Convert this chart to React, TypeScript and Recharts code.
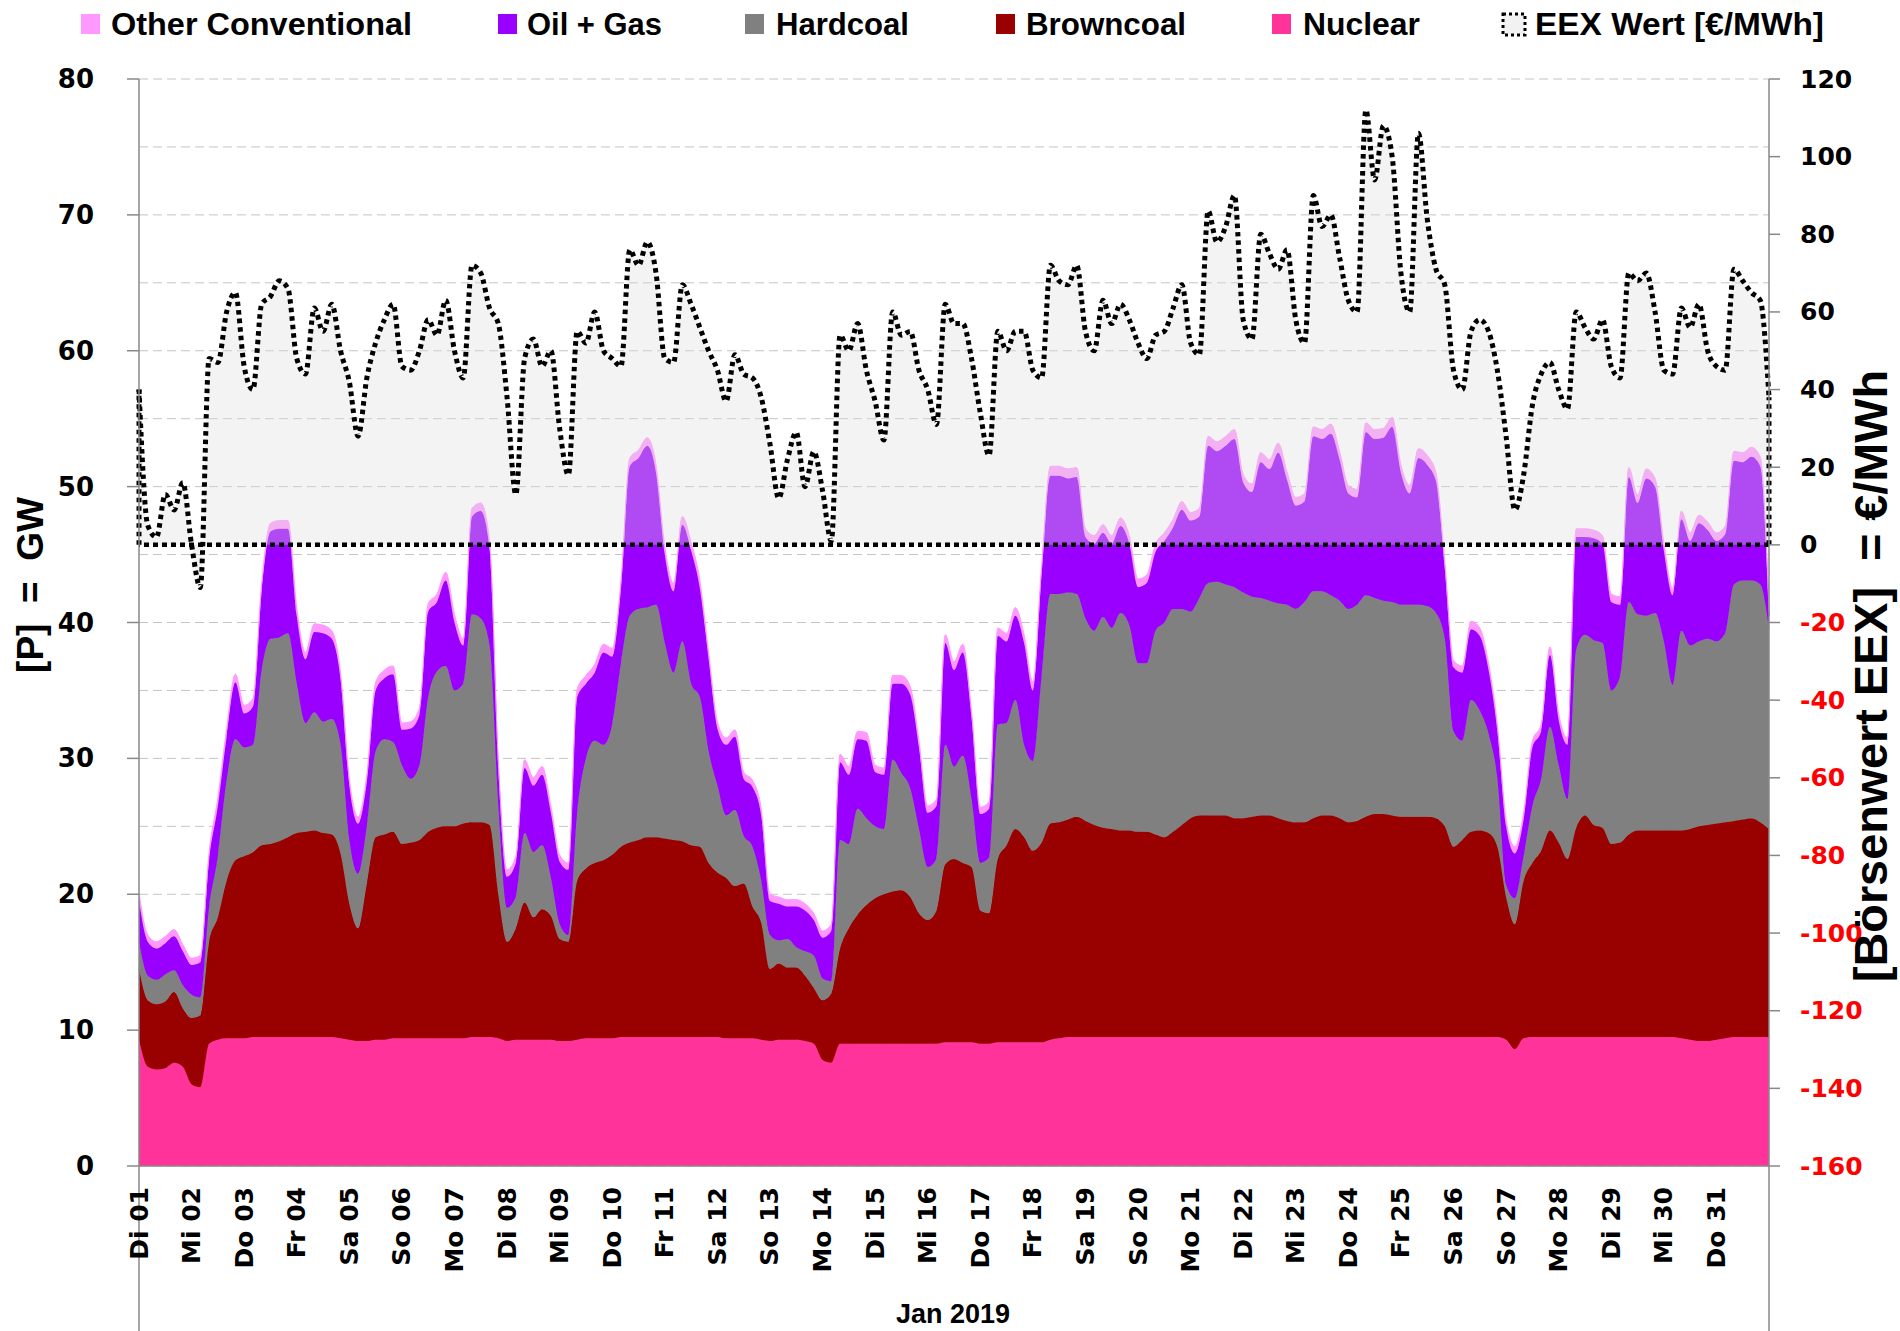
import { ComposedChart, Area, XAxis, YAxis, CartesianGrid, ReferenceLine } from 'recharts'

// Januar 2019, 4-Stunden-Werte (6 pro Tag), letzter Wert = 01.02. 00:00
const STEPS_PER_DAY = 6

const dayLabels = [
  'Di 01', 'Mi 02', 'Do 03', 'Fr 04', 'Sa 05', 'So 06', 'Mo 07', 'Di 08', 'Mi 09', 'Do 10',
  'Fr 11', 'Sa 12', 'So 13', 'Mo 14', 'Di 15', 'Mi 16', 'Do 17', 'Fr 18', 'Sa 19', 'So 20',
  'Mo 21', 'Di 22', 'Mi 23', 'Do 24', 'Fr 25', 'Sa 26', 'So 27', 'Mo 28', 'Di 29', 'Mi 30', 'Do 31',
]

// GW
const nuclear = [
  9.3, 7.3, 7.1, 7.2, 7.6, 7.3,
  6.0, 5.8, 9.0, 9.3, 9.4, 9.4,
  9.4, 9.5, 9.5, 9.5, 9.5, 9.5,
  9.5, 9.5, 9.5, 9.5, 9.5, 9.4,
  9.3, 9.2, 9.2, 9.3, 9.3, 9.4,
  9.4, 9.4, 9.4, 9.4, 9.4, 9.4,
  9.4, 9.4, 9.5, 9.5, 9.5, 9.4,
  9.2, 9.3, 9.3, 9.3, 9.3, 9.3,
  9.2, 9.2, 9.3, 9.4, 9.4, 9.4,
  9.4, 9.5, 9.5, 9.5, 9.5, 9.5,
  9.5, 9.5, 9.5, 9.5, 9.5, 9.5,
  9.5, 9.4, 9.4, 9.4, 9.4, 9.3,
  9.2, 9.3, 9.3, 9.3, 9.2, 9.0,
  7.8, 7.6, 9.0, 9.0, 9.0, 9.0,
  9.0, 9.0, 9.0, 9.0, 9.0, 9.0,
  9.0, 9.0, 9.1, 9.1, 9.1, 9.1,
  9.0, 9.0, 9.1, 9.1, 9.1, 9.1,
  9.1, 9.1, 9.3, 9.4, 9.5, 9.5,
  9.5, 9.5, 9.5, 9.5, 9.5, 9.5,
  9.5, 9.5, 9.5, 9.5, 9.5, 9.5,
  9.5, 9.5, 9.5, 9.5, 9.5, 9.5,
  9.5, 9.5, 9.5, 9.5, 9.5, 9.5,
  9.5, 9.5, 9.5, 9.5, 9.5, 9.5,
  9.5, 9.5, 9.5, 9.5, 9.5, 9.5,
  9.5, 9.5, 9.5, 9.5, 9.5, 9.5,
  9.5, 9.5, 9.5, 9.5, 9.5, 9.5,
  9.3, 8.6, 9.4, 9.5, 9.5, 9.5,
  9.5, 9.5, 9.5, 9.5, 9.5, 9.5,
  9.5, 9.5, 9.5, 9.5, 9.5, 9.5,
  9.5, 9.5, 9.4, 9.3, 9.2, 9.2,
  9.3, 9.4, 9.5, 9.5, 9.5, 9.5, 9.5,
]

const browncoal = [
  5.2, 4.9, 4.8, 4.9, 5.2, 4.3,
  4.9, 5.3, 7.5, 9.0, 11.6, 13.1,
  13.4, 13.6, 14.1, 14.2, 14.4, 14.7,
  15.0, 15.1, 15.2, 15.0, 14.9, 13.6,
  10.0, 8.3, 11.6, 14.9, 15.1, 15.2,
  14.3, 14.4, 14.6, 15.2, 15.5, 15.6,
  15.6, 15.8, 15.8, 15.8, 15.6, 10.6,
  7.3, 8.2, 10.1, 9.0, 9.6, 9.1,
  7.5, 7.3, 11.7, 12.5, 12.9, 13.1,
  13.5, 14.0, 14.3, 14.5, 14.7, 14.7,
  14.6, 14.5, 14.4, 14.1, 14.0, 12.8,
  12.1, 11.8, 11.2, 11.4, 9.7, 8.6,
  5.3, 5.6, 5.3, 5.3, 4.8, 4.1,
  4.4, 5.1, 7.0, 8.5, 9.5, 10.2,
  10.7, 11.0, 11.2, 11.3, 10.8, 9.6,
  9.1, 9.8, 13.1, 13.5, 13.2, 12.9,
  9.8, 9.6, 13.5, 14.5, 15.7, 15.1,
  14.1, 14.7, 15.9, 15.9, 16.0, 16.2,
  15.9, 15.6, 15.4, 15.3, 15.2, 15.2,
  15.1, 15.1, 14.9, 14.7, 15.1, 15.6,
  16.1, 16.3, 16.3, 16.3, 16.3, 16.1,
  16.1, 16.2, 16.3, 16.3, 16.1, 15.9,
  15.8, 15.8, 16.1, 16.3, 16.3, 16.1,
  15.8, 15.9, 16.2, 16.4, 16.4, 16.3,
  16.2, 16.2, 16.2, 16.2, 16.1, 15.5,
  14.0, 14.5, 15.1, 15.2, 15.0, 14.0,
  10.5, 9.2, 11.6, 12.8, 13.7, 15.2,
  14.3, 13.1, 15.4, 16.3, 15.6, 15.4,
  14.2, 14.3, 14.9, 15.2, 15.2, 15.2,
  15.2, 15.2, 15.3, 15.5, 15.8, 15.9,
  15.9, 15.9, 15.9, 16.0, 16.1, 15.8, 15.3,
]

const hardcoal = [
  2.0, 1.8, 1.8, 2.0, 1.6, 1.7,
  1.7, 1.3, 2.5, 4.5, 7.4, 8.9,
  8.0, 7.9, 12.9, 15.1, 15.0, 15.0,
  11.0, 8.0, 8.7, 8.2, 8.5, 8.0,
  4.7, 4.0, 4.2, 6.3, 7.0, 6.6,
  5.8, 4.7, 5.5, 9.9, 11.5, 11.8,
  10.0, 10.3, 15.3, 15.0, 13.2, 6.5,
  2.5, 2.3, 5.1, 4.8, 4.7, 2.8,
  1.1, 0.5, 5.0, 8.1, 9.0, 8.5,
  9.6, 13.5, 16.7, 17.0, 16.9, 17.1,
  14.4, 12.3, 14.7, 11.9, 11.0, 8.2,
  6.4, 4.6, 5.6, 3.5, 4.4, 3.1,
  2.5, 1.7, 2.1, 1.5, 1.8, 2.4,
  1.6, 0.9, 8.0, 6.2, 7.8, 6.4,
  5.3, 4.8, 9.7, 8.6, 8.0, 6.2,
  3.9, 3.8, 8.8, 6.8, 7.9, 5.0,
  3.5, 4.1, 9.9, 9.0, 9.5, 6.8,
  6.6, 12.2, 16.9, 16.8, 16.7, 16.4,
  14.9, 14.3, 15.5, 14.8, 16.0, 15.1,
  12.4, 12.4, 15.0, 15.8, 16.4, 15.9,
  15.2, 16.0, 17.1, 17.2, 17.0, 17.0,
  16.6, 16.2, 16.0, 15.8, 15.8, 15.9,
  15.7, 16.2, 16.7, 16.5, 16.2, 16.0,
  15.7, 15.9, 16.3, 15.9, 15.7, 15.7,
  15.6, 15.6, 15.6, 15.5, 15.1, 13.8,
  8.5, 7.3, 9.7, 8.8, 7.3, 5.0,
  0.9, 1.9, 1.8, 4.2, 5.3, 7.6,
  5.7, 4.4, 13.1, 13.3, 13.6, 13.6,
  11.3, 12.2, 17.1, 15.9, 15.8, 16.0,
  13.9, 10.7, 14.7, 13.5, 13.6, 13.7,
  13.4, 13.9, 17.4, 17.6, 17.5, 17.5, 14.7,
]

const oilGas = [
  3.0, 2.5, 2.3, 2.3, 2.5, 2.5,
  2.2, 2.6, 3.5, 3.7, 3.2, 4.2,
  2.5, 2.8, 5.8, 7.9, 8.0, 7.7,
  5.0, 4.7, 5.9, 6.5, 5.9, 4.8,
  4.0, 3.7, 3.3, 4.5, 4.5, 5.0,
  2.6, 3.7, 3.7, 6.3, 5.1, 6.3,
  5.0, 2.8, 7.2, 7.9, 7.1, 2.8,
  2.3, 2.5, 4.8, 4.9, 5.2, 4.8,
  4.6, 4.8, 8.5, 5.5, 5.0, 6.8,
  5.0, 5.5, 11.0, 11.1, 11.9, 9.7,
  6.5, 6.0, 8.6, 9.8, 8.0, 6.8,
  4.2, 5.2, 5.4, 4.2, 4.4, 4.8,
  2.5, 2.7, 2.4, 3.0, 3.0, 2.6,
  3.0, 3.7, 5.7, 5.1, 5.1, 5.7,
  4.0, 4.0, 5.6, 6.6, 6.9, 6.0,
  4.0, 3.9, 7.5, 7.1, 7.6, 6.0,
  3.6, 3.6, 6.5, 6.0, 6.2, 7.5,
  5.2, 7.6, 8.7, 8.7, 8.4, 8.6,
  6.0, 6.4, 6.2, 6.2, 6.4, 6.0,
  5.6, 5.9, 5.8, 6.0, 6.0, 7.3,
  6.7, 6.0, 10.1, 9.6, 10.2, 10.9,
  8.1, 7.7, 10.0, 9.7, 11.1, 9.2,
  7.6, 7.4, 11.4, 11.2, 11.9, 10.4,
  8.5, 7.9, 12.0, 11.7, 12.0, 12.9,
  9.7, 8.2, 10.8, 10.4, 9.7, 5.2,
  4.7, 5.0, 5.2, 5.5, 4.7, 3.5,
  4.3, 3.3, 2.7, 4.3, 3.5, 5.3,
  3.3, 4.0, 8.3, 7.2, 7.5, 7.3,
  6.5, 5.3, 9.2, 8.2, 10.1, 9.3,
  6.7, 6.6, 8.2, 7.7, 8.7, 8.0,
  7.4, 7.3, 9.1, 8.7, 9.1, 8.7, 1.0,
]

const otherConventional = [
  0.6, 0.5, 0.5, 0.5, 0.5, 0.5,
  0.5, 0.5, 0.6, 0.6, 0.6, 0.6,
  0.6, 0.6, 0.6, 0.6, 0.6, 0.6,
  0.6, 0.5, 0.6, 0.6, 0.6, 0.5,
  0.5, 0.5, 0.5, 0.6, 0.6, 0.6,
  0.5, 0.5, 0.5, 0.6, 0.6, 0.6,
  0.6, 0.5, 0.6, 0.6, 0.6, 0.5,
  0.5, 0.5, 0.6, 0.6, 0.6, 0.5,
  0.5, 0.5, 0.6, 0.6, 0.6, 0.6,
  0.6, 0.6, 0.6, 0.6, 0.6, 0.6,
  0.6, 0.6, 0.6, 0.6, 0.6, 0.5,
  0.5, 0.5, 0.5, 0.5, 0.5, 0.5,
  0.5, 0.5, 0.5, 0.5, 0.5, 0.5,
  0.5, 0.5, 0.6, 0.6, 0.6, 0.6,
  0.5, 0.5, 0.6, 0.6, 0.6, 0.5,
  0.5, 0.5, 0.6, 0.6, 0.6, 0.5,
  0.5, 0.5, 0.6, 0.6, 0.6, 0.6,
  0.6, 0.6, 0.7, 0.7, 0.7, 0.7,
  0.6, 0.6, 0.6, 0.6, 0.6, 0.6,
  0.6, 0.6, 0.6, 0.6, 0.6, 0.6,
  0.6, 0.6, 0.7, 0.7, 0.7, 0.7,
  0.6, 0.6, 0.7, 0.7, 0.7, 0.6,
  0.6, 0.6, 0.7, 0.7, 0.7, 0.6,
  0.6, 0.6, 0.7, 0.7, 0.7, 0.7,
  0.6, 0.6, 0.7, 0.7, 0.6, 0.5,
  0.5, 0.5, 0.6, 0.6, 0.5, 0.5,
  0.5, 0.5, 0.5, 0.5, 0.5, 0.6,
  0.5, 0.5, 0.6, 0.6, 0.6, 0.6,
  0.6, 0.6, 0.7, 0.6, 0.7, 0.6,
  0.6, 0.5, 0.6, 0.6, 0.6, 0.6,
  0.6, 0.6, 0.7, 0.7, 0.7, 0.7, 0.4,
]

// €/MWh
const eexPrice = [
  40, 5, 2, 13, 9, 16,
  0, -11, 48, 47, 60, 65,
  46, 40, 62, 64, 68, 66,
  48, 44, 61, 55, 62, 50,
  42, 28, 43, 52, 58, 62,
  46, 45, 50, 58, 54, 63,
  50, 43, 72, 70, 61, 57,
  38, 13, 48, 53, 46, 50,
  30, 18, 55, 52, 60, 50,
  48, 46, 76, 72, 78, 70,
  48, 47, 67, 62, 56, 50,
  45, 37, 49, 44, 43, 38,
  26, 12, 22, 29, 15, 24,
  14, 1, 54, 50, 57, 45,
  37, 27, 60, 54, 55, 45,
  40, 31, 62, 57, 57, 48,
  34, 23, 55, 50, 55, 55,
  45, 43, 72, 68, 67, 72,
  55, 50, 63, 57, 62, 58,
  52, 48, 54, 55, 61, 67,
  52, 49, 86, 78, 82, 90,
  58, 53, 80, 75, 71, 76,
  58, 52, 90, 82, 85, 74,
  63, 60, 112, 94, 108, 100,
  70, 60, 106, 84, 71, 67,
  45, 40, 55, 58, 55, 45,
  28, 9, 18, 36, 44, 47,
  40, 35, 60, 56, 53, 58,
  46, 43, 70, 68, 70, 60,
  45, 44, 61, 56, 62, 50,
  46, 45, 71, 68, 65, 63, 38,
]

const gwTicks = [0, 5, 10, 15, 20, 25, 30, 35, 40, 45, 50, 55, 60, 65, 70, 75, 80]
const priceTicks = [-160, -140, -120, -100, -80, -60, -40, -20, 0, 20, 40, 60, 80, 100, 120]

const data = eexPrice.map((price, i) => ({
  t: i / STEPS_PER_DAY,
  nuclear: nuclear[i],
  browncoal: browncoal[i],
  hardcoal: hardcoal[i],
  oilGas: oilGas[i],
  other: otherConventional[i],
  price,
}))

const lastDay = dayLabels.length
const AXIS_GRAY = '#888888'
const TICK_FONT = "'DejaVu Sans', Verdana, sans-serif"
const LABEL_FONT = "'Liberation Sans', Arial, sans-serif"

const legendItems = [
  { label: 'Other Conventional', color: '#ff99ff', x: 81, tx: 111, w: 301 },
  { label: 'Oil + Gas', color: '#9900ff', x: 498, tx: 527, w: 135 },
  { label: 'Hardcoal', color: '#808080', x: 745, tx: 776, w: 133 },
  { label: 'Browncoal', color: '#990000', x: 996, tx: 1026, w: 160 },
  { label: 'Nuclear', color: '#ff3399', x: 1272, tx: 1303, w: 117 },
]

function DayTick({ x, y, payload }: any) {
  return (
    <text
      x={x}
      y={y}
      transform={`rotate(-90, ${x}, ${y})`}
      textAnchor="end"
      dominantBaseline="central"
      fontFamily={TICK_FONT}
      fontWeight="bold"
      fontSize={25}
      fill="#000"
    >
      {dayLabels[payload.value]}
    </text>
  )
}

function GwTick({ x, y, payload }: any) {
  if (payload.value % 10 !== 0) return <g />
  const axisX = x + 45
  return (
    <g>
      <line x1={axisX - 12} x2={axisX} y1={y} y2={y} stroke={AXIS_GRAY} strokeWidth={1.5} />
      <text x={x} y={y} textAnchor="end" dominantBaseline="central" fontFamily={TICK_FONT} fontWeight="bold" fontSize={26} fill="#000">
        {payload.value}
      </text>
    </g>
  )
}

function PriceTick({ x, y, payload }: any) {
  return (
    <text x={x} y={y} textAnchor="start" dominantBaseline="central" fontFamily={TICK_FONT} fontWeight="bold" fontSize={25} fill={payload.value < 0 ? '#ff0000' : '#000'}>
      {payload.value}
    </text>
  )
}

export default function App() {
  return (
    <div style={{ position: 'absolute', left: 0, top: 0, width: 1900, height: 1331, background: '#fff' }}>
      <ComposedChart width={1900} height={1331} data={data} margin={{ top: 79, right: 31, bottom: 15, left: 39 }}>
        <CartesianGrid yAxisId="left" vertical={false} stroke="#c4c4c4" strokeDasharray="9 5" />
        <XAxis
          dataKey="t"
          type="number"
          domain={[0, lastDay]}
          ticks={dayLabels.map((_, i) => i)}
          interval={0}
          height={150}
          tickLine={false}
          tickSize={0}
          tickMargin={21}
          tick={<DayTick />}
          axisLine={{ stroke: AXIS_GRAY, strokeWidth: 1.5 }}
        />
        <YAxis
          yAxisId="left"
          domain={[0, 80]}
          ticks={gwTicks}
          interval={0}
          width={100}
          tickLine={false}
          tickSize={0}
          tickMargin={45}
          tick={<GwTick />}
          axisLine={{ stroke: AXIS_GRAY, strokeWidth: 1.5 }}
        />
        <YAxis
          yAxisId="right"
          orientation="right"
          domain={[-160, 120]}
          ticks={priceTicks}
          interval={0}
          width={100}
          tickSize={11}
          tickMargin={20}
          tickLine={{ stroke: AXIS_GRAY, strokeWidth: 1.5 }}
          tick={<PriceTick />}
          axisLine={{ stroke: AXIS_GRAY, strokeWidth: 1.5 }}
        />

        <Area yAxisId="left" stackId="gen" type="monotone" dataKey="nuclear" fill="#ff3399" stroke="#ff3399" strokeWidth={1} fillOpacity={1} isAnimationActive={false} />
        <Area yAxisId="left" stackId="gen" type="monotone" dataKey="browncoal" fill="#990000" stroke="#990000" strokeWidth={1} fillOpacity={1} isAnimationActive={false} />
        <Area yAxisId="left" stackId="gen" type="monotone" dataKey="hardcoal" fill="#808080" stroke="#808080" strokeWidth={1} fillOpacity={1} isAnimationActive={false} />
        <Area yAxisId="left" stackId="gen" type="monotone" dataKey="oilGas" fill="#9900ff" stroke="#9900ff" strokeWidth={1} fillOpacity={1} isAnimationActive={false} />
        <Area yAxisId="left" stackId="gen" type="monotone" dataKey="other" fill="#ff99ff" stroke="#ff99ff" strokeWidth={1} fillOpacity={1} isAnimationActive={false} />

        <Area
          yAxisId="right"
          type="monotone"
          dataKey="price"
          baseValue={0}
          fill="#dcdcdc"
          fillOpacity={0.34}
          stroke="#000"
          strokeWidth={5}
          strokeDasharray="4.5 4"
          isAnimationActive={false}
        />
        <ReferenceLine yAxisId="right" y={0} stroke="#000" strokeWidth={4.5} strokeDasharray="5 4" />
        <ReferenceLine yAxisId="right" segment={[{ x: 0, y: 0 }, { x: 0, y: eexPrice[0] }]} stroke="#000" strokeWidth={5} strokeDasharray="4.5 4" />
        <ReferenceLine yAxisId="right" segment={[{ x: lastDay, y: 0 }, { x: lastDay, y: eexPrice[eexPrice.length - 1] }]} stroke="#000" strokeWidth={5} strokeDasharray="4.5 4" />

        {/* Achsenlinien laufen unter die Datumsbeschriftung weiter */}
        <ReferenceLine yAxisId="left" ifOverflow="visible" segment={[{ x: 0, y: 0 }, { x: 0, y: -12.3 }]} stroke={AXIS_GRAY} strokeWidth={1.5} />
        <ReferenceLine yAxisId="left" ifOverflow="visible" segment={[{ x: lastDay, y: 0 }, { x: lastDay, y: -12.3 }]} stroke={AXIS_GRAY} strokeWidth={1.5} />
      </ComposedChart>

      <svg width={1900} height={1331} style={{ position: 'absolute', left: 0, top: 0, pointerEvents: 'none' }}>
        {legendItems.map((item) => (
          <g key={item.label}>
            <rect x={item.x} y={14} width={19} height={20} fill={item.color} />
            <text x={item.tx} y={35} fontFamily={LABEL_FONT} fontWeight="bold" fontSize={32} textLength={item.w} lengthAdjust="spacingAndGlyphs">
              {item.label}
            </text>
          </g>
        ))}
        <rect x={1503} y={14} width={22} height={21} fill="#f2f2f2" stroke="#000" strokeWidth={3} strokeDasharray="3 3" />
        <text x={1535} y={35} fontFamily={LABEL_FONT} fontWeight="bold" fontSize={32} textLength={289} lengthAdjust="spacingAndGlyphs">
          EEX Wert [€/MWh]
        </text>

        <text x={30} y={585} transform="rotate(-90, 30, 585)" textAnchor="middle" dominantBaseline="central" fontFamily={LABEL_FONT} fontWeight="bold" fontSize={37} style={{ whiteSpace: 'pre' }}>
          {'[P]  =  GW'}
        </text>
        <text x={1871} y={676} transform="rotate(-90, 1871, 676)" textAnchor="middle" dominantBaseline="central" fontFamily={LABEL_FONT} fontWeight="bold" fontSize={46} textLength={612} lengthAdjust="spacingAndGlyphs" style={{ whiteSpace: 'pre' }}>
          {'[Börsenwert EEX]  = €/MWh'}
        </text>
        <text x={953} y={1323} textAnchor="middle" fontFamily={LABEL_FONT} fontWeight="bold" fontSize={27}>
          Jan 2019
        </text>
      </svg>
    </div>
  )
}
